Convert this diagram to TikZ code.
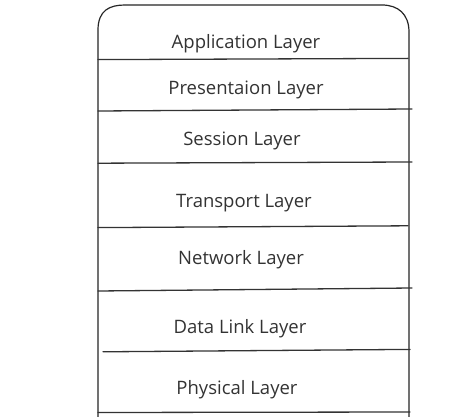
\documentclass[tikz,border=0pt]{standalone}
\usepackage{fontspec}
\setmainfont{Open Sans}
\begin{document}
\begin{tikzpicture}[x=1pt,y=-1pt,
  outline/.style={draw=black!85,line width=1.2pt,line cap=round,line join=round},
  divider/.style={draw=black!80,line width=1.3pt,line cap=round},
  layer/.style={text=black!80,font=\fontsize{18.5}{22}\selectfont,inner sep=0pt}]
\useasboundingbox[fill=white] (0,0) rectangle (474,417);
% stack outline, open at the bottom
\draw[outline] (98,417) -- (98,30) .. controls (98,10) and (110,5) .. (125,5)
  -- (382,5) .. controls (398,5) and (409,14) .. (409,32) -- (409,417);
% layer separators
\draw[divider] (98,59.6) -- (408,58.4);
\draw[divider] (98,111) -- (412,109);
\draw[divider] (98,163.2) -- (412,162);
\draw[divider] (98,227.6) -- (408,225.8);
\draw[divider] (98,291) -- (412,288);
\draw[divider] (103,351.8) -- (410,349.4);
\draw[divider] (98,412.5) -- (410,412);
% layer names
\node[layer] (app) at (246,43.5) {Application Layer};
\node[layer] (pres) at (246,89.5) {Presentaion Layer};
\node[layer] (sess) at (242,140.5) {Session Layer};
\node[layer] (trans) at (244,203.5) {Transport Layer};
\node[layer] (net) at (241,259.5) {Network Layer};
\node[layer] (dl) at (240,328.5) {Data Link Layer};
\node[layer] (phy) at (237,389.5) {Physical Layer};
\end{tikzpicture}
\end{document}
